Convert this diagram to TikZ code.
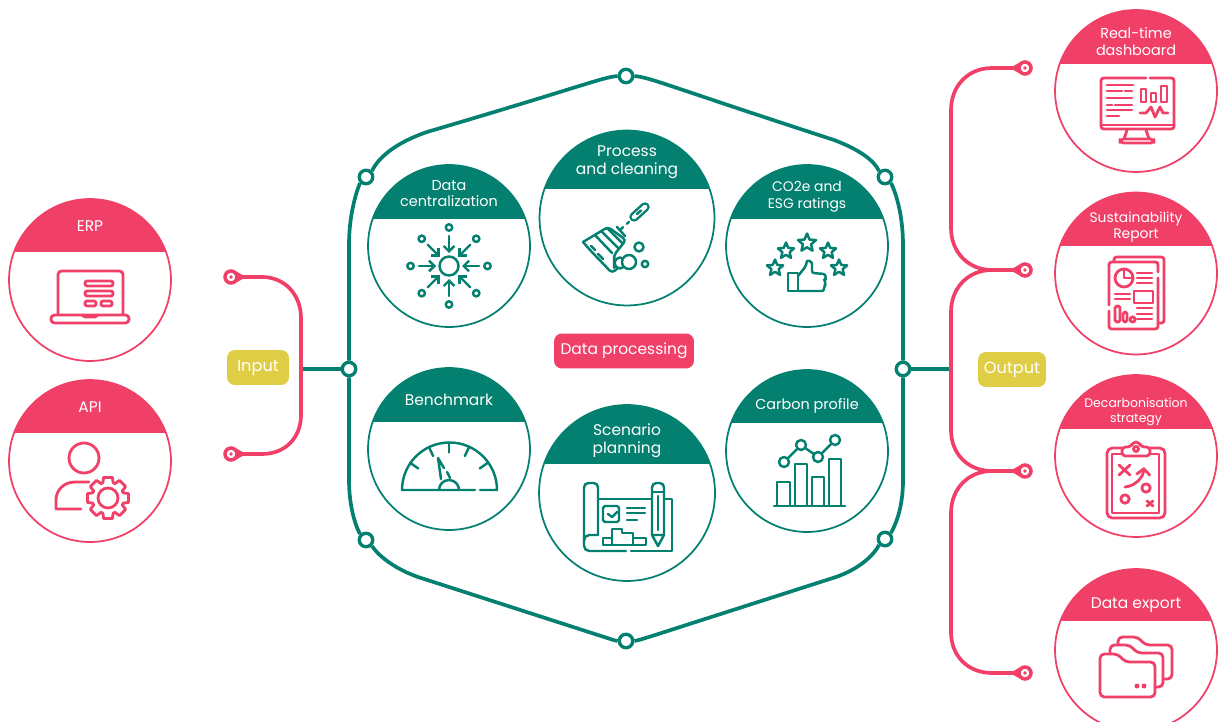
\documentclass[tikz,border=0pt]{standalone}
\usepackage{fontspec}
\setmainfont{Poppins}
\usetikzlibrary{arrows.meta}

\definecolor{brandpink}{RGB}{240,64,104}
\definecolor{brandgreen}{RGB}{4,128,112}
\definecolor{brandyellow}{RGB}{223,206,69}

\tikzset{
  badgering/.style={circle,line width=1pt,inner sep=0pt,fill=none},
  bandtext/.style={text=white,align=center,inner sep=0pt,font=\fontsize{8.2}{9.6}\selectfont},
  bigtext/.style={text=white,align=center,inner sep=0pt,font=\fontsize{8.8}{10.5}\selectfont},
  smalltext/.style={text=white,align=center,inner sep=0pt,font=\fontsize{7.9}{9.6}\selectfont},
  tinytext/.style={text=white,align=center,inner sep=0pt,font=\fontsize{7.1}{8.6}\selectfont},
  pillbox/.style={rounded corners=4.5pt,text=white,inner sep=0pt,font=\fontsize{9.2}{10.6}\selectfont},
  hubdot/.style={circle,draw=brandgreen,fill=white,line width=1.9pt,minimum size=0.27cm,inner sep=0pt},
  portdot/.style={circle,draw=brandpink,fill=white,line width=2pt,minimum size=0.24cm,inner sep=0pt,
    path picture={\fill[brandpink] (path picture bounding box.center) circle (1.1pt);}},
  greenwire/.style={draw=brandgreen,line width=2.1pt},
  pinkwire/.style={draw=brandpink,line width=2.1pt},
  greenicon/.style={draw=brandgreen,line width=1.4pt,line cap=round,line join=round},
  pinkicon/.style={draw=brandpink,line width=1.6pt,line cap=round,line join=round},
}

% name, x, y, radius, band bottom, colour, text y, text style, text
\newcommand{\badge}[9]{
  \begin{scope}
    \clip (#2,#3) circle (#4);
    \fill[#6] (#2-#4,#3-#4) rectangle (#2+#4,#5);
  \end{scope}
  \node[badgering,draw=#6,minimum size=#4*0.04cm] (#1) at (#2,#3) {};
  \node[#8] (#1txt) at (#2,#7) {#9};
}

% x, y, outer radius
\newcommand{\staricon}[3]{
  \draw[greenicon,shift={(#1,#2)}] (-90:#3)
    \foreach \k in {1,...,9} { -- (-90+\k*36:{#3*(1-0.55*mod(\k,2))}) } -- cycle;
}

\begin{document}
\begin{tikzpicture}[x=0.02cm,y=-0.02cm]

    \useasboundingbox (0,0) rectangle (1219,722);

    % Input side
    \badge{erp}{90}{280}{81}{252}{brandpink}{226}{bigtext}{ERP}
    \badge{api}{90}{461}{81}{433}{brandpink}{407}{bigtext}{API}

    % Centre circles
    \badge{central}{449}{246}{81}{219}{brandgreen}{193.5}{bandtext}{Data\\centralization}
    \badge{cleaning}{627}{218}{87.5}{189}{brandgreen}{162}{bigtext}{Process\\and cleaning}
    \badge{ratings}{807}{246}{81}{219}{brandgreen}{197}{smalltext}{CO2e and\\ESG ratings}
    \badge{bench}{449}{449}{81}{422}{brandgreen}{400}{bigtext}{Benchmark}
    \badge{scenario}{627}{493}{88}{464}{brandgreen}{440.5}{bigtext}{Scenario\\planning}
    \badge{carbon}{807}{451}{81}{423}{brandgreen}{406}{bandtext}{Carbon profile}

    % Output side
    \badge{realtime}{1136}{91}{81}{64}{brandpink}{42}{bandtext}{Real-time\\dashboard}
    \badge{report}{1136}{273.5}{81}{246}{brandpink}{227}{smalltext}{Sustainability\\Report}
    \badge{decarb}{1136}{456}{81}{429}{brandpink}{412}{tinytext}{Decarbonisation\\strategy}
    \badge{export}{1136}{650}{81}{621}{brandpink}{605}{bigtext}{Data export}

    % Labels
    \node[pillbox,fill=brandpink,minimum width=2.8cm,minimum height=0.7cm,font=\fontsize{8.8}{10.5}\selectfont] (dataproc) at (624,351) {Data processing};
    \node[pillbox,fill=brandyellow,minimum width=1.24cm,minimum height=0.7cm] (input) at (258,367.5) {Input};
    \node[pillbox,fill=brandyellow,minimum width=1.36cm,minimum height=0.7cm] (output) at (1012,369.5) {Output};

    % Hexagon hubs and ports
    \node[hubdot] (hubN) at (626,76) {};
    \node[hubdot] (hubNE) at (885,177) {};
    \node[hubdot] (hubE) at (903,369) {};
    \node[hubdot] (hubSE) at (885,539) {};
    \node[hubdot] (hubS) at (626,641) {};
    \node[hubdot] (hubSW) at (366,540) {};
    \node[hubdot] (hubW) at (349,369) {};
    \node[hubdot] (hubNW) at (366,177) {};
    \node[portdot] (inA) at (231,277) {};
    \node[portdot] (inB) at (231,454) {};
    \node[portdot] (outA) at (1025,68) {};
    \node[portdot] (outB) at (1025,270) {};
    \node[portdot] (outC) at (1025,471) {};
    \node[portdot] (outD) at (1025,673) {};
    \coordinate (inJoin) at (301,369);
    \coordinate (outJoin) at (951,369);

    % Hexagon outline
    \draw[greenwire] (hubN.west) .. controls (600,78) and (590,84) .. (427,132) .. controls (395,143) and (378,158) .. (hubNW.45);
    \draw[greenwire] (hubN.east) .. controls (652,78) and (662,84) .. (834,140) .. controls (858,149) and (874,160) .. (hubNE.135);
    \draw[greenwire] (hubNW.-135) .. controls (355,195) and (349,218) .. (349,245) -- (hubW.north);
    \draw[greenwire] (hubNE.-45) .. controls (897,195) and (903,218) .. (903,245) -- (hubE.north);
    \draw[greenwire] (hubW.south) -- (349,480) .. controls (349,505) and (355,525) .. (hubSW.135);
    \draw[greenwire] (hubE.south) -- (903,480) .. controls (903,505) and (897,522) .. (hubSE.45);
    \draw[greenwire] (hubSW.-45) .. controls (380,558) and (398,570) .. (418,577) -- (601,636) .. controls (608,638) and (612,640) .. (hubS.west);
    \draw[greenwire] (hubSE.-135) .. controls (872,558) and (856,570) .. (836,577) -- (652,636) .. controls (645,638) and (640,640) .. (hubS.east);
    \draw[greenwire] (inJoin) -- (hubW.west);
    \draw[greenwire] (hubE.east) -- (outJoin);

    % Pink brackets
    \draw[pinkwire] (inA.east) -- (262,277) .. controls (285,277) and (301,295) .. (301,318) -- (301,415) .. controls (301,438) and (285,454) .. (262,454) -- (inB.east);
    \draw[pinkwire] (outA.west) -- (992,68) .. controls (968,68) and (951,86) .. (951,110) -- (951,228) .. controls (951,252) and (968,270) .. (992,270) -- (outB.west);
    \draw[pinkwire] (outB.west) -- (992,270) .. controls (968,270) and (951,288) .. (951,312) -- (951,430) .. controls (951,454) and (968,471) .. (992,471) -- (outC.west);
    \draw[pinkwire] (outC.west) -- (992,471) .. controls (968,471) and (951,489) .. (951,513) -- (951,632) .. controls (951,656) and (968,673) .. (992,673) -- (outD.west);
    \foreach \p/\d/\u/\v in {inA/1/45/-45,inB/1/45/-45,outA/-1/135/-135,outB/-1/135/-135,outC/-1/135/-135,outD/-1/135/-135} {
      \fill[brandpink] (\p.\u) -- ([xshift=\d*0.3cm]\p.center) -- (\p.\v) -- cycle;
    }

    % Laptop
    \draw[pinkicon,rounded corners=2pt] (58,315) -- (58,271) -- (123,271) -- (123,315);
    \draw[pinkicon,rounded corners=2pt] (51,315) rectangle (129,323);
    \draw[pinkicon] (82,315) -- (85,317) -- (95,317) -- (98,315);
    \draw[pinkicon,rounded corners=1.2pt] (85,281) rectangle (113,286);
    \draw[pinkicon,rounded corners=1.2pt] (85,291) rectangle (113,296);
    \draw[pinkicon,rounded corners=1.2pt] (85,301) rectangle (96,306);
    \draw[pinkicon,rounded corners=1.2pt] (101,301) rectangle (112,306);

    % User and gear
    \draw[pinkicon] (84,458) circle (15);
    \draw[pinkicon] (89,482) -- (75,482) .. controls (64,482) and (56,490) .. (56,500) -- (56,509) -- (81,509);
    \begin{scope}[shift={(108,498)}]
      \draw[pinkicon] (0,0) circle (10);
      \draw[pinkicon] (-12:21) \foreach \a in {0,45,...,315} { -- (\a-12:21) -- (\a+12:21) -- (\a+19:16) -- (\a+26:16) } -- cycle;
    \end{scope}

    % Converging arrows
    \begin{scope}[shift={(449,266)}]
      \draw[greenicon] (0,0) circle (9.5);
      \foreach \a in {0,45,...,315} {
        \draw[greenicon] (\a:38.5) circle (3.2);
        \draw[greenicon,-{Straight Barb[length=3pt,width=6pt]}] (\a:30) -- (\a:13);
      }
    \end{scope}

    % Brush
    \draw[brandgreen,line width=5.4pt,line cap=round] (634,217) -- (645,207);
    \draw[white,line width=2.6pt,line cap=round] (634,217) -- (645,207);
    \draw[greenicon] (637,214) -- (641,210.5);
    \draw[greenicon,dash pattern=on 1.5pt off 3pt] (621,229) -- (630,221);
    \draw[greenicon] (617,227) -- (625,236);
    \draw[greenicon,rounded corners=2pt] (583,242) -- (608,227) -- (626,240) -- (614,255) -- (614,268);
    \draw[greenicon,rounded corners=2pt] (583,242) -- (590,250) -- (612,273) -- (618,268);
    \draw[greenicon] (595,235) -- (612,253);
    \draw[greenicon] (601,231) -- (618,248);
    \draw[greenicon] (607,228) -- (622,243);
    \draw[greenicon] (591,246) -- (595,250);
    \draw[greenicon] (598,254) -- (603,259);
    \draw[greenicon,fill=white] (620,263) circle (5.5);
    \draw[greenicon,fill=white] (629,262) circle (7);
    \draw[greenicon] (639,247) circle (4.5);
    \draw[greenicon] (645,264) circle (3.2);

    % Stars and thumb
    \staricon{807}{243}{9.5}
    \staricon{786}{251}{8.5}
    \staricon{828}{251}{8.5}
    \staricon{775}{268}{8.5}
    \staricon{839}{268}{8.5}
    \draw[greenicon] (788,273) rectangle (798,291);
    \draw[greenicon,rounded corners=1.2pt] (798,276) -- (806,266) -- (807,260) -- (812,262) -- (812,273) -- (825,274) -- (826,279) -- (824,280) -- (826,284) -- (824,286) -- (824,291) -- (798,291);

    % Gauge
    \draw[greenicon] (475,490) -- (402,490) arc[start angle=180,end angle=360,radius=47.5] -- (480,490);
    \draw[greenicon] (459,490) arc[start angle=0,end angle=-180,radius=10];
    \foreach \a in {35,65,90,115,145} {
      \draw[greenicon] (449,490)++(-\a:47.5) -- ++(-\a:-10);
    }
    \draw[greenicon] (441,479) -- (438,458) -- (444,468);
    \draw[greenicon] (447,472) -- (450,478);

    % Plan and pencil
    \draw[greenicon,rounded corners=2.5pt] (598,535) -- (598,483) -- (584,483) -- (584,543);
    \draw[greenicon,rounded corners=3pt] (598,535) -- (584,535) -- (584,551) -- (626,551);
    \draw[greenicon] (631,551) -- (672,551) -- (672,499) -- (664,499);
    \draw[greenicon] (598,499) -- (652,499);
    \draw[greenicon,rounded corners=1pt] (603,506) rectangle (619,522);
    \draw[greenicon] (608,514) -- (612,517) -- (617,512);
    \draw[greenicon] (627,508) -- (645,508);
    \draw[greenicon] (627,513) -- (645,513);
    \draw[greenicon] (627,520) -- (637,520);
    \draw[greenicon] (603,545) -- (603,538) -- (612,538) -- (612,529) -- (622,529) -- (622,533) -- (633,533) -- (633,538) -- (646,538) -- (646,545) -- cycle;
    \draw[greenicon] (612,538) -- (612,545);
    \draw[greenicon] (633,538) -- (633,545);
    \draw[greenicon,rounded corners=2.5pt] (652,535) -- (652,483) -- (664,483) -- (664,535);
    \draw[greenicon] (652,535) -- (658,546) -- (664,535) -- cycle;
    \draw[greenicon] (652,492) -- (664,492);
    \draw[greenicon] (658,496) -- (658,530);

    % Bars and line
    \draw[greenicon] (774,506) -- (845,506);
    \draw[greenicon] (777,506) rectangle (790,482);
    \draw[greenicon] (795,506) rectangle (807,464);
    \draw[greenicon] (812,506) rectangle (824,477);
    \draw[greenicon] (829,506) rectangle (841,459);
    \draw[greenicon] (784,462) -- (801,445) -- (818,457) -- (835,440);
    \foreach \x/\y in {784/462,801/445,818/457,835/440} {
      \draw[greenicon,fill=white] (\x,\y) circle (5);
    }

    % Monitor
    \draw[pinkicon,rounded corners=1.5pt] (1150,78) -- (1174,78) -- (1174,129) -- (1101,129) -- (1101,78) -- (1146,78);
    \draw[pinkicon] (1101,125) -- (1174,125);
    \draw[pinkicon] (1127,130) -- (1124,139);
    \draw[pinkicon] (1146,130) -- (1149,139);
    \draw[pinkicon,rounded corners=2pt] (1120,139) rectangle (1154,143);
    \draw[pinkicon] (1107,85) -- (1133,85);
    \draw[pinkicon] (1107,91) -- (1122,91);
    \draw[pinkicon] (1125,91) -- (1132,91);
    \draw[pinkicon] (1107,98) -- (1132,98);
    \draw[pinkicon] (1107,105) -- (1112,105);
    \draw[pinkicon] (1115,105) -- (1132,105);
    \draw[pinkicon] (1107,110) -- (1132,110);
    \draw[pinkicon] (1107,116) -- (1119,116);
    \draw[pinkicon] (1141,89) rectangle (1146,102);
    \draw[pinkicon] (1151,93) rectangle (1156,102);
    \draw[pinkicon] (1161,86) rectangle (1167,102);
    \draw[pinkicon] (1140,113) -- (1146,113) -- (1151,107) -- (1155,117) -- (1160,107) -- (1163,113) -- (1168,113);

    % Report pages
    \draw[pinkicon,rounded corners=1.5pt] (1114,262) -- (1114,257) -- (1164,257) -- (1164,323) -- (1158,323);
    \draw[pinkicon,rounded corners=1.5pt] (1158,272) -- (1158,262) -- (1109,262) -- (1109,305);
    \draw[pinkicon,rounded corners=1.5pt] (1109,311) -- (1109,329) -- (1158,329) -- (1158,278);
    \draw[pinkicon] (1124,278) circle (9);
    \draw[pinkicon] (1124,269) -- (1124,278) -- (1133,278);
    \draw[pinkicon] (1137,273) -- (1152,273);
    \draw[pinkicon] (1137,278) -- (1152,278);
    \draw[pinkicon] (1137,283) -- (1152,283);
    \draw[pinkicon] (1115,294) -- (1130,294);
    \draw[pinkicon] (1115,299) -- (1130,299);
    \draw[pinkicon] (1134,291) rectangle (1153,303);
    \draw[pinkicon,rounded corners=1pt] (1115,306) rectangle (1120,322);
    \draw[pinkicon,rounded corners=1pt] (1123,312) rectangle (1127,322);
    \draw[pinkicon,rounded corners=1pt] (1130,317) rectangle (1135,322);
    \draw[pinkicon] (1137,308) -- (1152,308);
    \draw[pinkicon] (1137,314) -- (1152,314);
    \draw[pinkicon] (1137,319) -- (1152,319);

    % Clipboard
    \draw[pinkicon,rounded corners=3pt] (1122,448) -- (1107,448) -- (1107,518) -- (1165,518) -- (1165,448) -- (1150,448);
    \draw[pinkicon] (1122,454) -- (1112,454) -- (1112,513) -- (1159,513) -- (1159,454) -- (1150,454);
    \draw[pinkicon,rounded corners=2pt] (1122,456) -- (1122,447) -- (1131,447) -- (1133,442) -- (1139,442) -- (1141,447) -- (1150,447) -- (1150,456) -- cycle;
    \draw[pinkicon] (1136,449) circle (2.5);
    \draw[pinkicon] (1119,465) -- (1130,475);
    \draw[pinkicon] (1130,465) -- (1119,475);
    \draw[pinkicon,-{Straight Barb[length=3.5pt,width=8pt]}] (1125,487) .. controls (1135,486) and (1143,478) .. (1144,467);
    \draw[pinkicon] (1146,488) circle (4.2);
    \draw[pinkicon] (1125,499) circle (4.2);
    \draw[pinkicon] (1147,501) -- (1153,506);
    \draw[pinkicon] (1153,501) -- (1147,506);

    % Folders
    \draw[pinkicon,rounded corners=2.5pt] (1100,697) -- (1100,654) -- (1118,654) -- (1125,662) -- (1155,662) -- (1155,697) -- cycle;
    \draw[pinkicon,rounded corners=2.5pt] (1110,654) -- (1110,645) -- (1130,645) -- (1137,653) -- (1163,653) -- (1163,687) -- (1155,687);
    \draw[pinkicon,rounded corners=2.5pt] (1118,645) -- (1118,637) -- (1138,637) -- (1145,645) -- (1172,645) -- (1172,679) -- (1163,679);
    \fill[brandpink] (1137,686) circle (2.5);
    \fill[brandpink] (1144,686) circle (2.5);

\end{tikzpicture}
\end{document}
